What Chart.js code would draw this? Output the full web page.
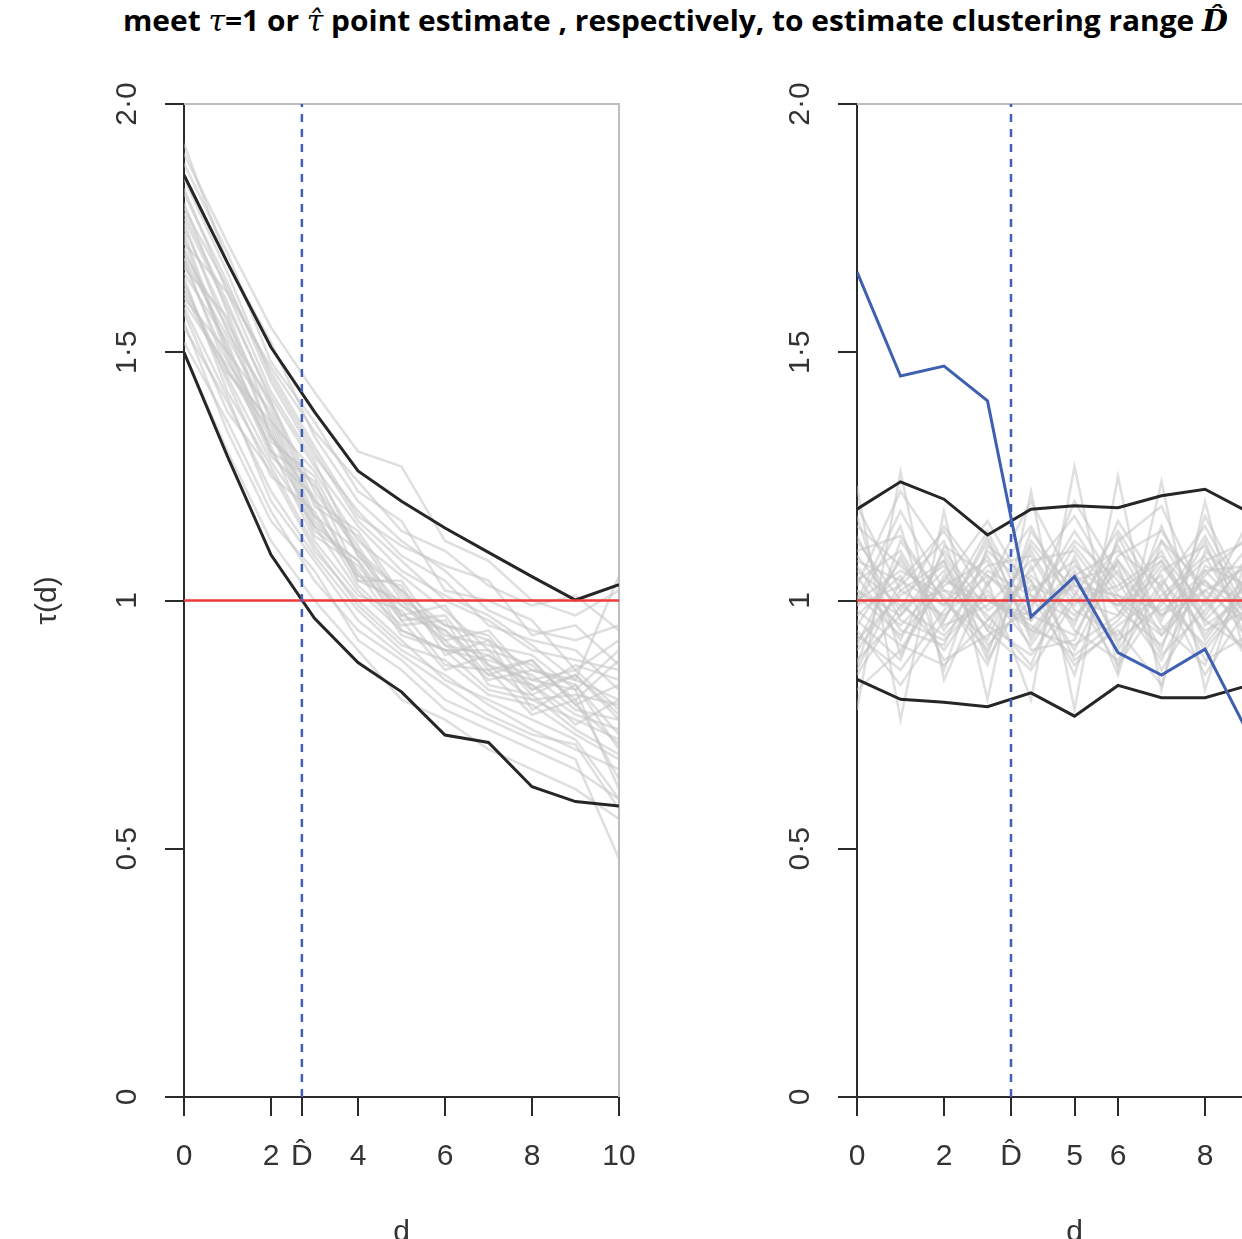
<!DOCTYPE html>
<html><head><meta charset="utf-8">
<script src="https://cdn.jsdelivr.net/npm/chart.js@4.4.1/dist/chart.umd.min.js"></script>
<style>
html,body{margin:0;padding:0;width:1242px;height:1239px;overflow:hidden;background:#fff;}
#title{position:absolute;left:123px;top:0px;white-space:nowrap;font-weight:bold;font-size:29px;font-family:"Open Sans","Noto Sans",sans-serif;color:#000;transform-origin:0 0;}
#title .m{font-family:"DejaVu Serif",serif;font-style:italic;font-weight:normal;}
.c{position:absolute;top:0;width:680px;height:1262px;}
</style></head><body>
<div id="title">meet <span class="m">τ</span>=1 or <span class="m">τ̂</span> point estimate , respectively, to estimate clustering range <span class="m" style="font-weight:bold">D̂</span></div>
<div class="c" style="left:0px"><canvas id="c1"></canvas></div>
<div class="c" style="left:673px"><canvas id="c2"></canvas></div>
<script>
// ---------- data ----------
const dist = [0,1,2,3,4,5,6,7,8,9,10];
const yTickVals = [0,0.5,1,1.5,2];
const yTickLabels = ['0','0·5','1','1·5','2·0'];
const refLevel = 1;

// left panel
const dHatLeft = 2.71;
const xTicksLeft = [0,2,dHatLeft,4,6,8,10];
const upperLeft = [1.857,1.68,1.51,1.38,1.261,1.20,1.146,1.097,1.048,1.001,1.032];
const lowerLeft = [1.50,1.29,1.092,0.964,0.875,0.816,0.729,0.714,0.625,0.595,0.586];
const simsLeft = [
 [1.78,1.60,1.40,1.22,1.10,1.02,0.95,0.92,0.86,0.84,0.80],
 [1.62,1.45,1.28,1.15,1.02,0.94,0.90,0.82,0.80,0.76,0.72],
 [1.85,1.66,1.45,1.30,1.16,1.08,1.00,0.96,0.90,0.88,0.86],
 [1.55,1.40,1.22,1.09,0.98,0.90,0.85,0.79,0.74,0.70,0.66],
 [1.70,1.55,1.33,1.20,1.04,1.00,0.91,0.89,0.82,0.85,0.76],
 [1.74,1.50,1.38,1.17,1.10,0.96,0.97,0.86,0.88,0.79,0.83],
 [1.66,1.52,1.30,1.24,1.05,1.03,0.89,0.92,0.78,0.83,0.70],
 [1.92,1.68,1.52,1.33,1.20,1.12,1.06,0.98,0.94,0.92,0.95],
 [1.58,1.38,1.26,1.10,1.00,0.92,0.84,0.80,0.76,0.72,0.60],
 [1.80,1.58,1.36,1.26,1.12,1.05,0.98,0.90,0.87,0.80,0.88],
 [1.68,1.48,1.35,1.14,1.08,0.97,0.94,0.85,0.83,0.77,0.74],
 [1.72,1.62,1.42,1.28,1.09,0.99,0.92,0.94,0.84,0.86,0.78],
 [1.64,1.44,1.25,1.18,1.03,0.95,0.96,0.83,0.81,0.74,0.69],
 [1.76,1.54,1.40,1.20,1.14,1.01,0.93,0.91,0.89,0.82,0.90],
 [1.60,1.47,1.31,1.12,1.01,0.98,0.87,0.86,0.77,0.80,0.64],
 [1.82,1.64,1.44,1.29,1.18,1.09,1.04,0.95,0.92,0.90,0.82],
 [1.69,1.53,1.37,1.16,1.06,0.93,0.90,0.88,0.85,0.78,0.76],
 [1.73,1.49,1.29,1.21,1.04,1.04,0.92,0.84,0.86,0.83,0.73],
 [1.67,1.57,1.33,1.23,1.11,0.97,0.99,0.87,0.80,0.81,0.79],
 [1.63,1.46,1.34,1.13,1.07,0.96,0.86,0.89,0.83,0.75,0.80],
 [1.88,1.70,1.48,1.36,1.22,1.16,1.02,1.00,0.96,0.86,0.92],
 [1.52,1.36,1.18,1.04,0.94,0.88,0.80,0.76,0.72,0.68,0.48],
 [1.75,1.56,1.39,1.19,1.13,1.00,0.95,0.93,0.82,0.87,0.84],
 [1.71,1.51,1.32,1.25,1.09,1.02,0.91,0.85,0.88,0.79,0.71],
 [1.65,1.42,1.27,1.11,0.99,0.91,0.88,0.81,0.79,0.73,0.68],
 [1.77,1.59,1.41,1.27,1.15,1.06,1.01,0.97,0.91,0.84,1.05],
 [1.61,1.50,1.30,1.17,1.05,0.99,0.94,0.87,0.84,0.82,0.62],
 [1.69,1.46,1.36,1.15,1.08,0.94,0.90,0.90,0.81,0.85,0.77],
 [1.90,1.72,1.55,1.42,1.30,1.27,1.12,1.08,1.00,0.97,1.02],
 [1.50,1.30,1.12,1.00,0.90,0.80,0.76,0.70,0.66,0.62,0.56],
 [1.83,1.62,1.47,1.34,1.24,1.14,1.10,1.03,0.99,1.01,0.94],
 [1.56,1.34,1.16,1.06,0.92,0.86,0.78,0.74,0.70,0.66,0.60],
 [1.79,1.63,1.46,1.31,1.17,1.11,1.07,1.04,0.93,0.95,0.87],
 [1.59,1.41,1.20,1.08,0.96,0.89,0.83,0.77,0.73,0.71,0.58]
];

// right panel
const dHatRight = 3.54;
const xTicksRight = [0,2,dHatRight,5,6,8,10];
const observedRight = [1.662,1.452,1.472,1.402,0.967,1.048,0.895,0.850,0.902,0.731,0.70];
const upperRight = [1.184,1.239,1.204,1.132,1.184,1.191,1.187,1.211,1.224,1.178,1.20];
const lowerRight = [0.841,0.801,0.795,0.786,0.814,0.767,0.829,0.804,0.804,0.829,0.82];
const simsRight = [
 [1.05,0.92,1.10,0.98,1.04,0.90,1.08,0.97,1.02,0.95,1.00],
 [0.95,1.08,0.96,1.12,0.93,1.05,0.99,1.10,0.92,1.04,0.97],
 [1.12,1.00,0.90,1.03,1.15,0.98,0.93,1.06,1.11,0.96,1.03],
 [0.88,0.97,1.06,0.91,1.00,1.12,1.04,0.89,0.98,1.08,0.94],
 [1.00,1.18,1.02,0.95,0.89,1.01,1.14,1.00,0.91,1.02,1.09],
 [0.93,0.86,0.98,1.07,1.09,0.94,0.88,1.03,1.15,0.99,0.92],
 [1.08,1.04,1.14,1.00,0.96,1.07,1.00,0.93,1.05,1.13,1.01],
 [0.98,0.91,0.87,0.96,1.06,1.17,1.02,1.08,0.96,0.90,1.06],
 [1.15,1.07,0.99,1.09,0.94,0.91,0.97,1.12,1.03,1.00,0.88],
 [0.90,1.02,1.08,0.88,1.03,0.99,1.11,0.95,0.87,1.06,1.12],
 [1.02,0.95,1.04,1.16,1.01,0.87,0.95,1.01,1.09,0.94,0.98],
 [0.85,0.99,0.93,1.02,0.91,1.04,1.07,0.86,1.00,1.11,0.96],
 [1.10,1.13,1.00,0.92,1.12,1.02,0.90,1.04,0.94,0.98,1.07],
 [0.96,0.88,1.11,1.05,0.97,0.93,1.09,1.14,1.01,0.88,1.02],
 [1.04,1.10,0.95,0.99,1.08,1.10,0.98,0.91,1.07,1.03,0.90],
 [0.92,1.01,1.07,0.94,0.86,1.00,1.03,1.09,0.99,1.16,1.05],
 [1.07,0.94,0.91,1.10,1.02,1.08,0.92,0.99,1.13,0.97,0.95],
 [1.00,1.06,1.01,0.87,1.10,0.95,1.16,1.02,0.90,1.01,1.10],
 [1.19,1.02,0.97,1.05,0.99,1.14,1.01,0.94,1.04,0.92,1.00],
 [0.82,0.90,1.04,1.00,0.95,0.89,0.96,1.07,0.96,1.05,0.93],
 [1.03,1.22,1.09,0.96,1.05,0.97,1.06,0.90,1.17,1.00,1.04],
 [0.94,0.83,0.96,1.13,0.92,1.06,0.85,1.12,0.97,1.09,0.99],
 [1.09,0.98,1.15,1.03,1.20,1.03,0.99,1.05,0.88,0.93,1.08],
 [0.97,1.05,0.88,0.93,0.98,1.20,1.05,0.97,1.06,1.07,0.91],
 [1.01,0.93,1.03,1.08,0.90,0.92,1.12,1.19,1.00,0.89,1.01],
 [0.87,1.12,1.00,0.90,1.07,0.88,0.94,0.83,1.10,1.02,1.13],
 [1.13,0.96,0.92,1.01,0.94,1.05,1.10,1.03,0.85,0.99,0.96],
 [0.99,1.03,1.12,0.89,1.14,1.01,0.87,1.00,1.08,1.12,0.97],
 [0.78,1.26,0.84,1.04,0.80,1.27,0.86,1.24,0.82,1.10,0.85],
 [1.23,0.76,1.18,0.80,1.22,0.78,1.25,0.82,1.20,0.86,1.15],
 [1.06,0.99,1.02,1.00,0.97,1.03,1.01,0.98,1.04,0.96,1.02],
 [0.91,1.09,0.94,1.06,1.01,0.96,1.08,0.93,1.02,1.07,0.95],
 [1.17,0.89,1.05,0.97,0.87,1.09,0.91,1.15,0.95,1.01,1.06],
 [0.99,1.15,0.86,1.11,1.04,0.85,1.13,0.96,1.12,0.91,1.00],
 [1.02,0.97,1.08,0.94,1.11,1.00,0.97,1.08,0.93,1.04,0.99],
 [0.86,1.04,0.99,1.14,0.96,1.11,1.00,0.88,1.06,0.97,1.08]
];

// ---------- build ----------
Chart.defaults.font.family = '"Liberation Sans", Arial, sans-serif';
const toPts = ys => ys.map((y,i)=>({x:dist[i], y}));
const AXIS = '#2b2b2b';

const framePlugin = {
  id:'frame',
  beforeDatasetsDraw(chart){
    const {ctx, chartArea:a} = chart;
    ctx.save();
    ctx.strokeStyle = '#bdbdbd'; ctx.lineWidth = 2;
    ctx.beginPath();
    ctx.moveTo(a.left, a.top); ctx.lineTo(a.right, a.top); ctx.lineTo(a.right, a.bottom);
    ctx.stroke();
    ctx.restore();
  },
  afterDraw(chart){
    const {ctx, chartArea:a} = chart;
    const ys = chart.scales.y;
    ctx.save();
    ctx.fillStyle = '#333';
    ctx.font = '30px "Liberation Sans", Arial, sans-serif';
    ctx.textAlign = 'center'; ctx.textBaseline = 'middle';
    yTickVals.forEach((v,i)=>{
      const py = ys.getPixelForValue(v);
      ctx.save();
      ctx.translate(a.left - 56, py);
      ctx.rotate(-Math.PI/2);
      ctx.fillText(yTickLabels[i], 0, 0);
      ctx.restore();
    });
    ctx.restore();
  }
};

function makeChart(id, sims, upper, lower, observed, dHat, xTicks, showYTitle){
  const datasets = [];
  sims.forEach(s=>datasets.push({data:toPts(s), borderColor:'rgba(196,196,196,0.55)', borderWidth:2.5, order:10}));
  datasets.push({data:toPts(upper), borderColor:'#262626', borderWidth:3, order:4});
  datasets.push({data:toPts(lower), borderColor:'#262626', borderWidth:3, order:4});
  datasets.push({data:[{x:dist[0],y:refLevel},{x:dist[dist.length-1],y:refLevel}], borderColor:'#ee3a3a', borderWidth:2.5, order:3});
  if (observed) datasets.push({data:toPts(observed), borderColor:'#3f5fb0', borderWidth:3, order:2});
  datasets.push({data:[{x:dHat,y:yTickVals[0]},{x:dHat,y:yTickVals[yTickVals.length-1]}], borderColor:'#3f5fb8', borderWidth:2.5, borderDash:[8,7], order:1});
  return new Chart(document.getElementById(id), {
    type:'line',
    data:{datasets},
    options:{
      responsive:true, maintainAspectRatio:false, animation:false, devicePixelRatio:1,
      layout:{padding:{top:104, right:61, left:0, bottom:0}},
      elements:{point:{radius:0}, line:{tension:0}},
      plugins:{legend:{display:false}, tooltip:{enabled:false}},
      scales:{
        x:{type:'linear', min:0, max:10,
          afterBuildTicks: sc => { sc.ticks = xTicks.map(v=>({value:v})); },
          afterFit: sc => { sc.height = 165; },
          ticks:{autoSkip:false, maxRotation:0, minRotation:0, color:'#333', padding:23,
            font:{size:30, lineHeight:1.2},
            callback: v => (v === dHat ? 'D\u0302' : String(v))},
          grid:{drawOnChartArea:false, drawTicks:true, tickLength:19, color:AXIS, lineWidth:2},
          border:{display:true, color:AXIS, width:2},
          title:{display:true, text:'d', color:'#333', font:{size:30, lineHeight:1.2}, padding:{top:0,bottom:11}}
        },
        y:{type:'linear', min:0, max:2,
          afterBuildTicks: sc => { sc.ticks = yTickVals.map(v=>({value:v})); },
          afterFit: sc => { sc.width = 184; },
          ticks:{display:false},
          grid:{drawOnChartArea:false, drawTicks:true, tickLength:19, color:AXIS, lineWidth:2},
          border:{display:true, color:AXIS, width:2},
          title:{display:showYTitle, text:'τ(d)', color:'#333', font:{size:30, lineHeight:1.2}, padding:{top:30,bottom:0}}
        }
      }
    },
    plugins:[framePlugin]
  });
}

makeChart('c1', simsLeft, upperLeft, lowerLeft, null, dHatLeft, xTicksLeft, true);
makeChart('c2', simsRight, upperRight, lowerRight, observedRight, dHatRight, xTicksRight, false);

// fit title width
const t = document.getElementById('title');
const w = t.getBoundingClientRect().width;
t.style.transform = 'scaleX(' + (1105 / w) + ')';
</script>
</body></html>
